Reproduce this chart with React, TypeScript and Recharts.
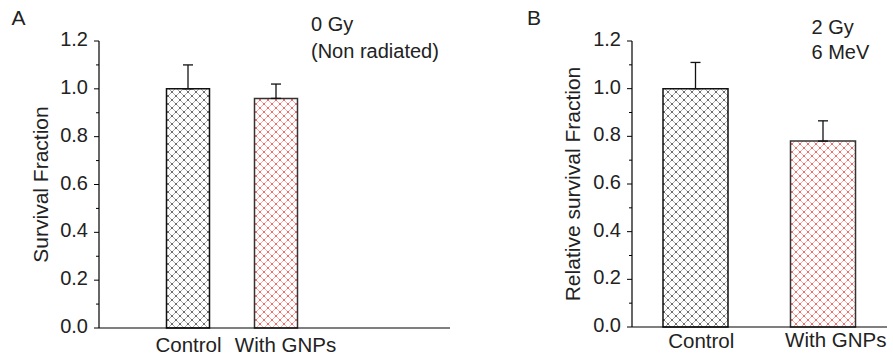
import { BarChart, Bar, XAxis, YAxis, ErrorBar, Cell } from "recharts";

const conditions = ["Control", "With GNPs"];
const survivalA = [1.0, 0.96];
const errorA = [0.1, 0.06];
const survivalB = [1.0, 0.78];
const errorB = [0.11, 0.085];
const yTicks = [0, 0.1, 0.2, 0.3, 0.4, 0.5, 0.6, 0.7, 0.8, 0.9, 1.0, 1.1, 1.2];

const FONT = '"Liberation Sans", Arial, sans-serif';
const fills = ["url(#hatchBlack)", "url(#hatchRed)"];
const strokes = ["#111", "#333"];

const toRows = (vals: number[], errs: number[]) =>
  conditions.map((name, i) => ({ name, value: vals[i], err: [0, errs[i]] }));

function YTick({ x, y, payload }: any) {
  const major = Math.round(payload.value * 10) % 2 === 0;
  return (
    <g>
      <line x1={x} x2={x - (major ? 5 : 3)} y1={y} y2={y} stroke="#000" strokeWidth={1} />
      {major && (
        <text x={x - 11} y={y + 5} textAnchor="end" fontSize={20} fontFamily={FONT} fill="#222">
          {payload.value.toFixed(1)}
        </text>
      )}
    </g>
  );
}

function makeXTick(shift: number[][]) {
  return ({ x, y, payload, index }: any) => (
    <text
      x={x + shift[index][0]}
      y={y + shift[index][1]}
      textAnchor="middle"
      fontSize={20.5}
      fontFamily={FONT}
      fill="#222"
    >
      {payload.value}
    </text>
  );
}

function Hatch({ id, line, dot }: { id: string; line: string; dot: string }) {
  const corners = [
    [-0.6, -0.6],
    [7.4, -0.6],
    [-0.6, 7.4],
    [7.4, 7.4],
    [3.4, 3.4],
  ];
  return (
    <pattern id={id} patternUnits="userSpaceOnUse" width={8} height={8}>
      <rect width={8} height={8} fill="#fff" />
      <path d="M0,0 L8,8 M8,0 L0,8" stroke={line} strokeWidth={0.9} />
      {corners.map(([cx, cy]) => (
        <rect key={`${cx}-${cy}`} x={cx} y={cy} width={1.2} height={1.2} fill={dot} />
      ))}
    </pattern>
  );
}

function Hatches() {
  return (
    <defs>
      <Hatch id="hatchBlack" line="#a0a0a0" dot="#000" />
      <Hatch id="hatchRed" line="#f7a3a3" dot="#e00000" />
    </defs>
  );
}

interface PanelProps {
  left: number;
  width: number;
  yWidth: number;
  xHeight: number;
  right: number;
  padding: { left: number; right: number };
  barSize: number;
  vals: number[];
  errs: number[];
  yLabel: string;
  yLabelX: number;
  tickShift: number[][];
  letter: string;
  letterX: number;
  notes: string[];
  notesX: number;
  notesY: number[];
}

function Panel(p: PanelProps) {
  const data = toRows(p.vals, p.errs);
  return (
    <div style={{ position: "absolute", left: p.left, top: 0 }}>
      <BarChart
        width={p.width}
        height={362}
        data={data}
        margin={{ top: 41, right: p.right, bottom: 0, left: 0 }}
      >
        <Hatches />
        <XAxis
          dataKey="name"
          height={p.xHeight}
          padding={p.padding}
          tickLine={false}
          tickSize={0}
          tickMargin={0}
          axisLine={{ stroke: "#000", strokeWidth: 1.2 }}
          tick={makeXTick(p.tickShift)}
          interval={0}
        />
        <YAxis
          width={p.yWidth}
          domain={[0, 1.2]}
          ticks={yTicks}
          tickLine={false}
          tickSize={0}
          tickMargin={0}
          axisLine={{ stroke: "#000", strokeWidth: 1.2 }}
          tick={<YTick />}
          interval={0}
          label={{
            value: p.yLabel,
            angle: -90,
            position: "insideLeft",
            offset: p.yLabelX,
            style: { textAnchor: "middle", fontSize: 21, fontFamily: FONT, fill: "#222" },
          }}
        />
        <Bar dataKey="value" barSize={p.barSize} isAnimationActive={false}>
          {data.map((d, i) => (
            <Cell key={d.name} fill={fills[i]} stroke={strokes[i]} strokeWidth={1.5} />
          ))}
          <ErrorBar dataKey="err" direction="y" width={5} stroke="#111" strokeWidth={1.3} />
        </Bar>
        <text x={p.letterX} y={25} fontSize={21} fontFamily={FONT} fill="#222">
          {p.letter}
        </text>
        {p.notes.map((n, i) => (
          <text key={n} x={p.notesX} y={p.notesY[i]} fontSize={20} fontFamily={FONT} fill="#222">
            {n}
          </text>
        ))}
      </BarChart>
    </div>
  );
}

export default function App() {
  return (
    <div
      style={{
        position: "absolute",
        left: 0,
        top: 0,
        width: 893,
        height: 362,
        background: "#fff",
        overflow: "hidden",
      }}
    >
      <Panel
        left={0}
        width={460}
        yWidth={99}
        xHeight={34}
        right={10}
        padding={{ left: 44.5, right: 130.5 }}
        barSize={43}
        vals={survivalA}
        errs={errorA}
        yLabel="Survival Fraction"
        yLabelX={41}
        tickShift={[
          [1, 23.7],
          [10, 23.7],
        ]}
        letter="A"
        letterX={11.5}
        notes={["0 Gy", "(Non radiated)"]}
        notesX={311}
        notesY={[30.7, 58.3]}
      />
      <Panel
        left={520}
        width={373}
        yWidth={112}
        xHeight={35}
        right={6}
        padding={{ left: 0, right: 0 }}
        barSize={65}
        vals={survivalB}
        errs={errorB}
        yLabel="Relative survival Fraction"
        yLabelX={53}
        tickShift={[
          [5.5, 21],
          [12.5, 19.7],
        ]}
        letter="B"
        letterX={7}
        notes={["2 Gy", "6 MeV"]}
        notesX={291.5}
        notesY={[34.3, 59.3]}
      />
    </div>
  );
}
